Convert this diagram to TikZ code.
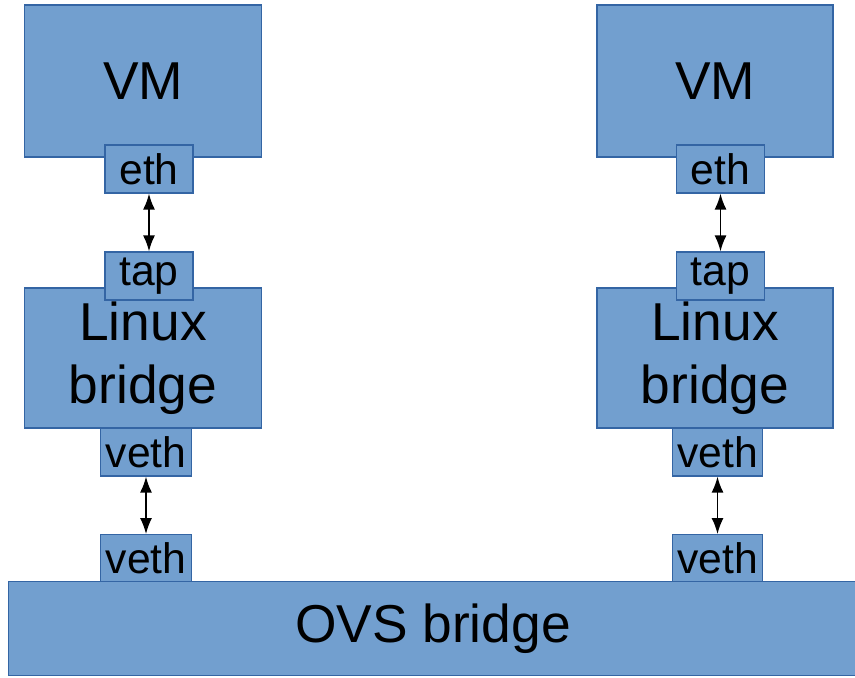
\documentclass[tikz,border=0pt]{standalone}
\usepackage{fontspec}
\setmainfont{Liberation Sans}
\usetikzlibrary{arrows.meta}
\definecolor{boxfill}{HTML}{729FCF}
\definecolor{boxline}{HTML}{3465A4}
\begin{document}
\begin{tikzpicture}[x=0.75pt,y=-0.75pt,
                    box/.style = {shape = rectangle,
                                  fill = boxfill,
                                  draw = boxline,
                                  line width = 0.8pt,
                                  inner sep = 0pt,
                                  align = center,
                                  font = \fontsize{40}{47}\selectfont},
                    port/.style = {box,
                                   font = \fontsize{32}{36}\selectfont},
                    link/.style = {line width = 1.4pt,
                                   {Latex[length=12pt,width=9pt]}-{Latex[length=12pt,width=9pt]}}]
		\useasboundingbox (0,0) rectangle (855,677);
		% left side
		\node[box, minimum width = 178pt, minimum height = 114pt] (vm1) at (143,81) {VM};
		\node[port, minimum width = 66pt, minimum height = 36pt] (eth1) at (149,169) {eth};
		\node[box, minimum width = 178pt, minimum height = 105pt] (lb1) at (143,358) {Linux\\bridge};
		\node[port, minimum width = 66pt, minimum height = 36pt] (tap1) at (149,276) {tap};
		\node[port, minimum width = 68pt, minimum height = 36pt] (vetha1) at (146,452) {veth};
		% right side
		\node[box, minimum width = 177pt, minimum height = 114pt] (vm2) at (715,81) {VM};
		\node[port, minimum width = 66pt, minimum height = 36pt] (eth2) at (720.5,169) {eth};
		\node[box, minimum width = 177pt, minimum height = 105pt] (lb2) at (715,358) {Linux\\bridge};
		\node[port, minimum width = 66pt, minimum height = 36pt] (tap2) at (720.5,276) {tap};
		\node[port, minimum width = 68pt, minimum height = 36pt] (vetha2) at (717.5,452) {veth};
		% OVS
		\node[box, minimum width = 637pt, minimum height = 71pt] (ovs) at (433,628.5) {OVS bridge};
		\node[port, minimum width = 68pt, minimum height = 35pt] (vethb1) at (146,558) {veth};
		\node[port, minimum width = 68pt, minimum height = 35pt] (vethb2) at (717.5,558) {veth};
		\path[link] (eth1) edge (tap1);
		\path[link] (eth2) edge (tap2);
		\path[link] (vetha1) edge (vethb1);
		\path[link] (vetha2) edge (vethb2);
	\end{tikzpicture}
\end{document}
